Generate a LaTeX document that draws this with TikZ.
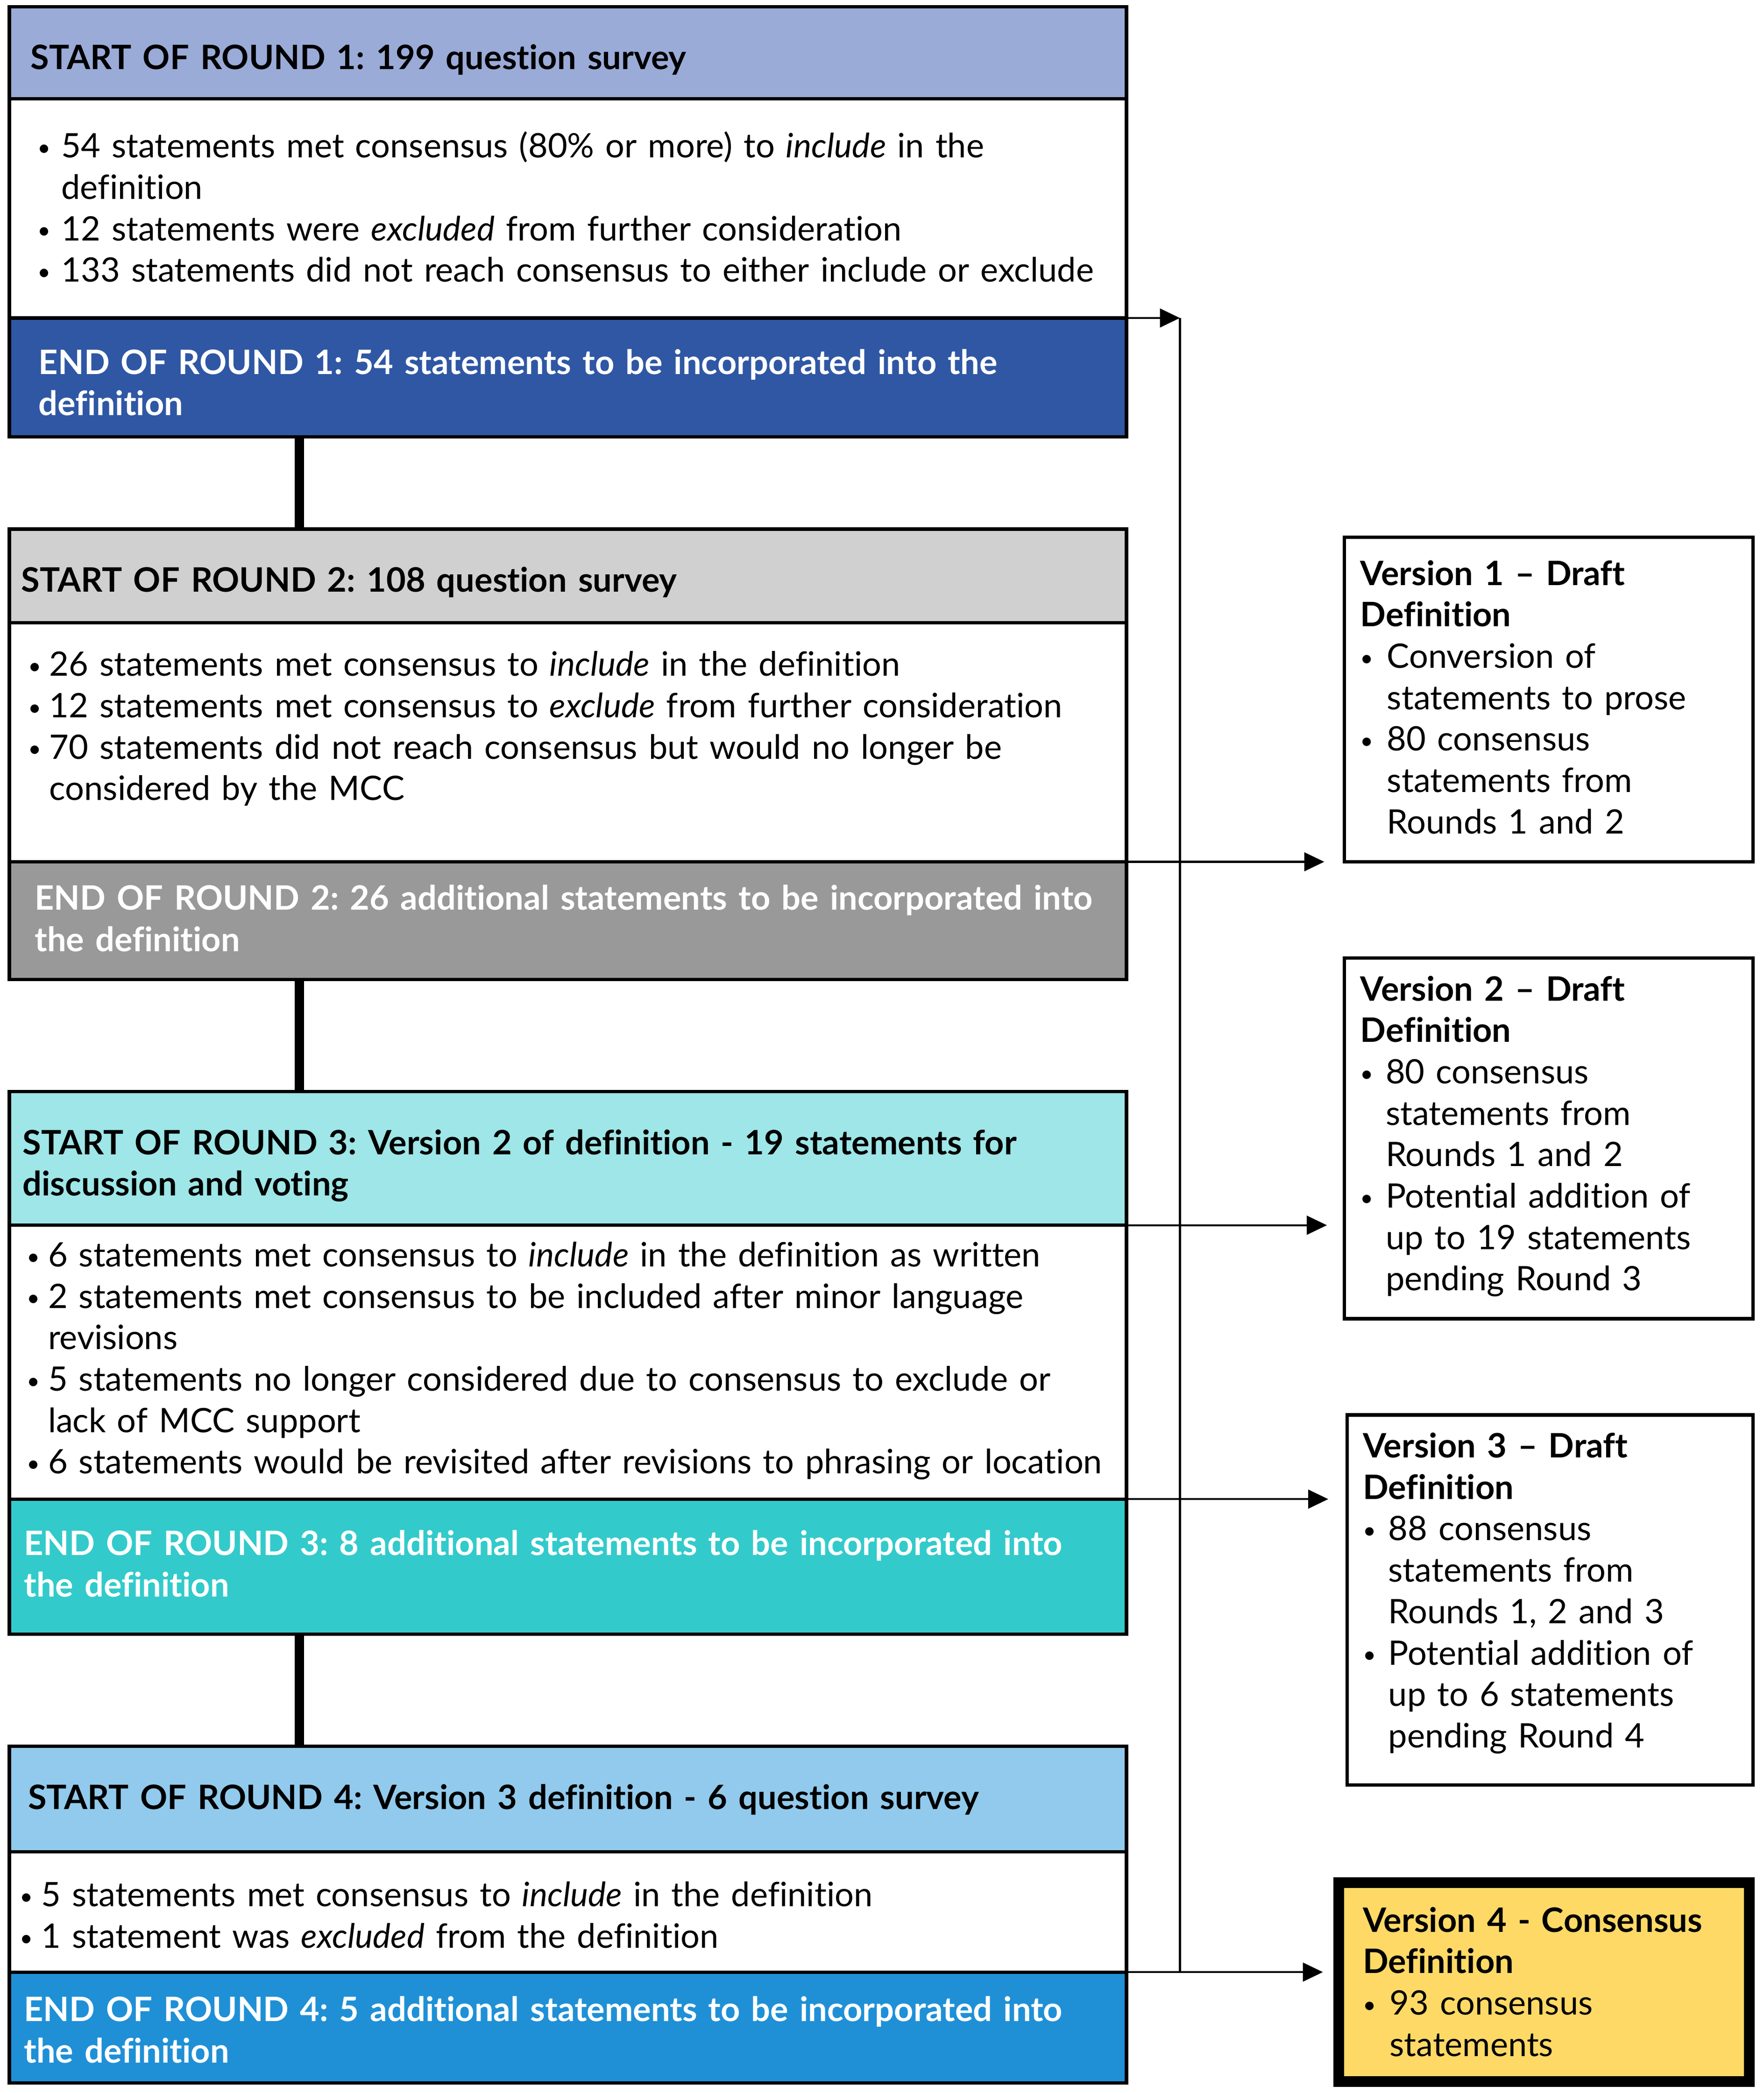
\documentclass[tikz,border=0pt]{standalone}
\usepackage{fontspec}
\setmainfont{Lato}[Ligatures=NoCommon]
\usetikzlibrary{arrows.meta,calc}
\definecolor{rAh}{HTML}{9AABD8}
\definecolor{rAe}{HTML}{2F57A4}
\definecolor{rBh}{HTML}{D0D0D0}
\definecolor{rBe}{HTML}{999999}
\definecolor{rCh}{HTML}{9EE6E8}
\definecolor{rCe}{HTML}{33CACB}
\definecolor{rDh}{HTML}{91CAEC}
\definecolor{rDe}{HTML}{1F90D6}
\definecolor{vyel}{HTML}{FFD966}
\setlength\parindent{0pt}
\setlength\parskip{0pt}
\hbadness=10000 \hfuzz=50pt
\frenchspacing
% bullet item with hanging indent
\newcommand\bpt[2][17pt]{\par\hangindent=#1\hangafter=1\noindent\makebox[#1][l]{\raisebox{1.5pt}{\fontsize{17}{17}\selectfont\textbullet}}\strut#2}
% text panel: width, height, left margin, first baseline from top, content
\newcommand\panel[5]{\parbox[c][#2][t]{#1}{\leftskip=#3\rightskip=0pt plus 1fil\parfillskip=0pt plus 1fil
  \spaceskip=.3333em\xspaceskip=.3333em
  \vspace*{\dimexpr#4-0.7\baselineskip\relax}#5\par}}
\begin{document}
\begin{tikzpicture}[x=1pt,y=-1pt,
  box/.style={draw=black, line width=2.5pt, outer sep=0pt, inner sep=0pt, anchor=north west,
     font=\fontsize{25.2}{31}\selectfont},
  hbox/.style={box, font=\fontsize{25.2}{31}\selectfont\bfseries},
  ebox/.style={box, font=\fontsize{25.2}{31}\selectfont\bfseries, text=white},
  link/.style={line width=7pt},
  thin/.style={line width=1.5pt},
  arr/.style={line width=1.5pt, -{Triangle[length=15pt,width=14pt]}}
]
\useasboundingbox (0,0) rectangle (1320,1566.5);

% Round 1
\node[hbox, fill=rAh] (h1) at (7,5)
  {\panel{836pt}{69pt}{16pt}{47pt}{\strut START OF ROUND 1: 199 question survey}};
\node[box, fill=white] (b1) at (7,74)
  {\panel{836pt}{164pt}{21pt}{44pt}{%
   \bpt[18pt]{54 statements met consensus (80\% or more) to \textit{include} in the\newline definition}
   \bpt[18pt]{12 statements were \textit{excluded} from further consideration}
   \bpt[18pt]{133 statements did not reach consensus to either include or exclude}}};
\node[ebox, fill=rAe] (e1) at (7,238)
  {\panel{836pt}{89pt}{22pt}{42pt}{\strut END OF ROUND 1: 54 statements to be incorporated into the\newline definition}};

% Round 2
\node[hbox, fill=rBh] (h2) at (7,396)
  {\panel{836pt}{70pt}{9pt}{47pt}{\strut START OF ROUND 2: 108 question survey}};
\node[box, fill=white] (b2) at (7,466)
  {\panel{836pt}{179pt}{14pt}{40pt}{%
   \bpt[16pt]{26 statements met consensus to \textit{include} in the definition}
   \bpt[16pt]{12 statements met consensus to \textit{exclude} from further consideration}
   \bpt[16pt]{70 statements did not reach consensus but would no longer be\newline considered by the MCC}}};
\node[ebox, fill=rBe] (e2) at (7,645)
  {\panel{836pt}{88pt}{19pt}{36pt}{\strut END OF ROUND 2: 26 additional statements to be incorporated into\newline the definition}};

% Round 3
\node[hbox, fill=rCh] (h3) at (7,817)
  {\panel{836pt}{100pt}{10pt}{47pt}{\strut START OF ROUND 3: Version 2 of definition - 19 statements for\newline discussion and voting}};
\node[box, fill=white] (b3) at (7,917)
  {\panel{836pt}{205pt}{13pt}{31pt}{%
   \bpt[16pt]{6 statements met consensus to \textit{include} in the definition as written}
   \bpt[16pt]{2 statements met consensus to be included after minor language\newline revisions}
   \bpt[16pt]{5 statements no longer considered due to consensus to exclude or\newline lack of MCC support}
   \bpt[16pt]{6 statements would be revisited after revisions to phrasing or location}}};
\node[ebox, fill=rCe] (e3) at (7,1122)
  {\panel{836pt}{101pt}{11pt}{42pt}{\strut END OF ROUND 3: 8 additional statements to be incorporated into\newline the definition}};

% Round 4
\node[hbox, fill=rDh] (h4) at (7,1307)
  {\panel{836pt}{79pt}{14pt}{47pt}{\strut START OF ROUND 4: Version 3 definition - 6 question survey}};
\node[box, fill=white] (b4) at (7,1386)
  {\panel{836pt}{90pt}{8pt}{41pt}{%
   \bpt[16pt]{5 statements met consensus to \textit{include} in the definition}
   \bpt[16pt]{1 statement was \textit{excluded} from the definition}}};
\node[ebox, fill=rDe] (e4) at (7,1476)
  {\panel{836pt}{83pt}{11pt}{37pt}{\strut END OF ROUND 4: 5 additional statements to be incorporated into\newline the definition}};

% Version boxes
\node[box, fill=white] (v1) at (1006,402)
  {\panel{306pt}{243pt}{12pt}{36pt}{\strut\textbf{Version 1 – Draft\newline Definition}
   \bpt[20pt]{Conversion of\newline statements to prose}
   \bpt[20pt]{80 consensus\newline statements from\newline Rounds 1 and 2}}};
\node[box, fill=white] (v2) at (1006,717)
  {\panel{306pt}{270pt}{12pt}{32pt}{\strut\textbf{Version 2 – Draft\newline Definition}
   \bpt[19pt]{80 consensus\newline statements from\newline Rounds 1 and 2}
   \bpt[19pt]{Potential addition of\newline up to 19 statements\newline pending Round 3}}};
\node[box, fill=white] (v3) at (1008,1059)
  {\panel{304pt}{277pt}{12pt}{32pt}{\strut\textbf{Version 3 – Draft\newline Definition}
   \bpt[19pt]{88 consensus\newline statements from\newline Rounds 1, 2 and 3}
   \bpt[19pt]{Potential addition of\newline up to 6 statements\newline pending Round 4}}};
\node[box, fill=vyel, line width=8pt] (v4) at (1002,1409)
  {\panel{307pt}{149pt}{18pt}{37pt}{\strut\textbf{Version 4 - Consensus\newline Definition}
   \bpt[20pt]{93 consensus\newline statements}}};

% Thick links between rounds
\draw[link] ($(e1.south west)+(217,0)$) -- ($(h2.north west)+(217,0)$);
\draw[link] ($(e2.south west)+(217,0)$) -- ($(h3.north west)+(217,0)$);
\draw[link] ($(e3.south west)+(217,0)$) -- ($(h4.north west)+(217,0)$);

% Bus line and arrows
\coordinate (busx) at (883,0);
\draw[arr] (e1.north east) -- (e1.north east -| busx);
\draw[thin] (e1.north east -| busx) -- (e4.north east -| busx);
\draw[arr, shorten >=15pt] (e2.north east) -- (e2.north east -| v1.west);
\draw[arr, shorten >=13pt] (b3.north east) -- (b3.north east -| v2.west);
\draw[arr, shorten >=14pt] (e3.north east) -- (e3.north east -| v3.west);
\draw[arr, shorten >=12pt] (e4.north east) -- (e4.north east -| v4.west);
\end{tikzpicture}
\end{document}
